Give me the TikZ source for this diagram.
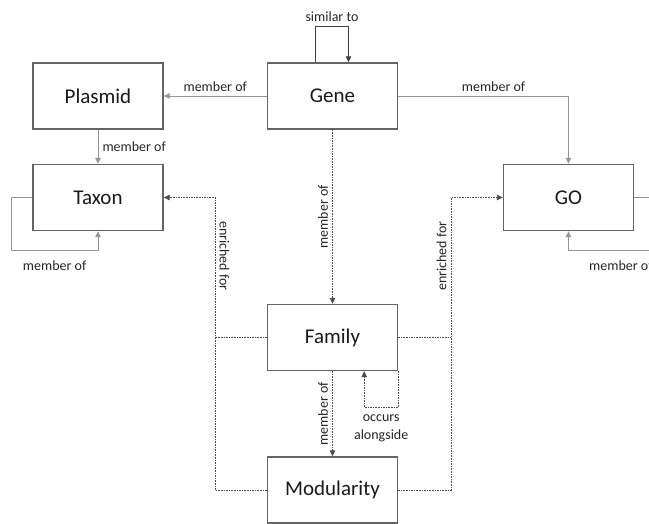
\documentclass[tikz,border=0pt]{standalone}
\usepackage{fontspec}
\setmainfont{Carlito}
\usetikzlibrary{arrows.meta}
\definecolor{boxgray}{RGB}{100,100,100}
\definecolor{linkgray}{RGB}{150,150,150}
\definecolor{dotgray}{RGB}{75,75,75}
\tikzset{
BOX/.style={draw=boxgray, line width=1.4pt, minimum width=130pt, minimum height=66pt, inner sep=0pt, font=\fontsize{21}{24}\selectfont, text=black!90},
LINK/.style={draw=linkgray, line width=1pt, -{Triangle[length=6pt,width=5.5pt]}},
DOTLINK/.style={draw=dotgray, line width=0.9pt, dash pattern=on 1.6pt off 1pt, -{Triangle[length=6pt,width=5.5pt]}},
DOTLINE/.style={DOTLINK, -},
LABEL/.style={font=\fontsize{14}{18}\selectfont, text=black!85, inner sep=4pt},
}
\begin{document}
\begin{tikzpicture}[x=1pt, y=-1pt] %gene families
	\useasboundingbox (0,0) rectangle (649,523);
	\node[BOX] (Gene) at (332.5,96) {Gene};
	\node[BOX] (Plasmid) at (98,96) {Plasmid};
	\node[BOX] (Taxon) at (98,197.5) {Taxon};
	\node[BOX] (GO) at (568.5,197.5) {GO};
	\node[BOX] (Family) at (332.5,337.5) {Family};
	\node[BOX] (Modularity) at (332.5,490) {Modularity};
	\coordinate (enrL) at (215,0);
	\coordinate (enrR) at (451,0);
	\draw[LINK,draw=black!75] ([xshift=-17]Gene.north) -- ++(0,-36) -- node[LABEL,above]{similar to} ++(33,0) -- ([xshift=16]Gene.north);
	\draw[LINK] (Gene) -- node[LABEL,above]{member of} (Plasmid);
	\draw[LINK] (Gene) -| node[LABEL,above,pos=0.28]{member of} (GO);
	\draw[LINK] (Plasmid) -- node[LABEL,right]{member of} (Taxon);
	\draw[LINK] (Taxon.west) -- ++(-21,0) -- ++(0,53) -| node[LABEL,below,pos=0.25,yshift=-6pt]{member of} (Taxon.south);
	\draw[LINK] (GO.east) -- ++(39,0) -- ++(0,53) -| node[LABEL,below,pos=0.25,yshift=-6pt]{member of} (GO.south);
	\draw[DOTLINK] (Gene) -- node[LABEL,rotate=90,above]{member of} (Family);
	\draw[DOTLINK] (Family) -- node[LABEL,rotate=90,above]{member of} (Modularity);
	\draw[DOTLINK] (Family.south east) -- ++(0,36) -| node[LABEL,below,pos=0.25,align=center,yshift=-3pt]{occurs\\alongside} ([xshift=-34]Family.south east);
	\draw[DOTLINK] (Modularity.west) -- (Modularity.west -| enrL) |- node[LABEL,rotate=-90,above,pos=0.4]{enriched for} (Taxon.east);
	\draw[DOTLINE] (Family.west) -- (Family.west -| enrL);
	\draw[DOTLINK] (Modularity.east) -- (Modularity.east -| enrR) |- node[LABEL,rotate=90,above,pos=0.4]{enriched for} (GO.west);
	\draw[DOTLINE] (Family.east) -- (Family.east -| enrR);
\end{tikzpicture}
\end{document}
